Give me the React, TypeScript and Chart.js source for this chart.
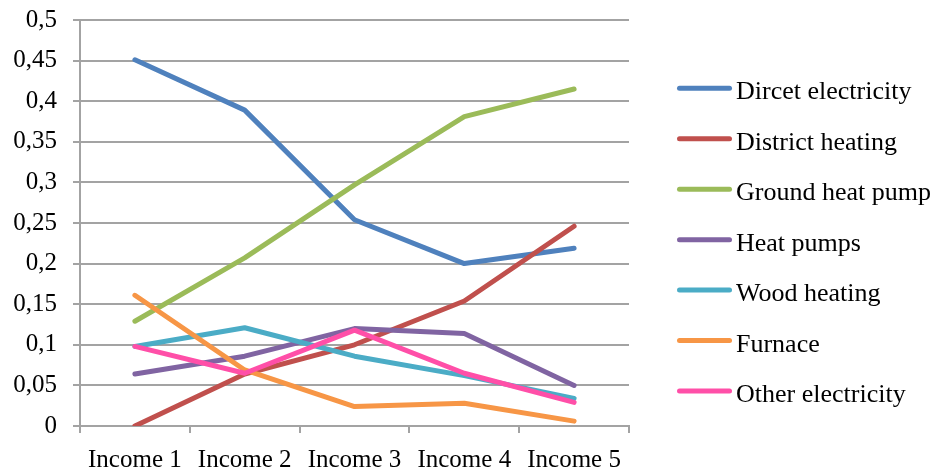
import React, { useEffect, useRef } from 'react';
import { Chart, registerables } from 'chart.js';

Chart.register(...registerables);

const categories = ['Income 1', 'Income 2', 'Income 3', 'Income 4', 'Income 5'];
const seriesNames = [
  'Dircet electricity',
  'District heating',
  'Ground heat pump',
  'Heat pumps',
  'Wood heating',
  'Furnace',
  'Other electricity',
];
const directElectricity = [0.451, 0.389, 0.254, 0.2, 0.219];
const districtHeating = [0.0, 0.064, 0.1, 0.154, 0.246];
const groundHeatPump = [0.129, 0.207, 0.297, 0.381, 0.415];
const heatPumps = [0.064, 0.086, 0.12, 0.114, 0.05];
const woodHeating = [0.098, 0.121, 0.086, 0.062, 0.034];
const furnace = [0.161, 0.069, 0.024, 0.028, 0.006];
const otherElectricity = [0.098, 0.065, 0.118, 0.065, 0.029];
const seriesColors = ['#4f81bd', '#c0504d', '#9bbb59', '#8064a2', '#4bacc6', '#f79646', '#ff4fa8'];
const yMin = 0;
const yMax = 0.5;
const yStep = 0.05;

const FONT = "'Liberation Serif', 'Times New Roman', serif";
const GRID = '#a3a3a3';

const sideLegend = {
  id: 'sideLegend',
  afterDraw(chart: any) {
    const ctx = chart.ctx;
    const x0 = chart.chartArea.right + 48;
    const y0 = 88.3;
    const gap = 50.45;
    ctx.save();
    chart.data.datasets.forEach((ds: any, i: number) => {
      const y = y0 + i * gap;
      ctx.beginPath();
      ctx.lineWidth = 5;
      ctx.lineCap = 'round';
      ctx.strokeStyle = ds.borderColor;
      ctx.moveTo(x0 + 2.5, y);
      ctx.lineTo(x0 + 52.5, y);
      ctx.stroke();
      ctx.fillStyle = '#000';
      ctx.font = `26px ${FONT}`;
      ctx.textBaseline = 'alphabetic';
      ctx.textAlign = 'left';
      ctx.fillText(ds.label, x0 + 59, y + 11);
    });
    ctx.restore();
  },
};

export default function App() {
  const ref = useRef<HTMLCanvasElement | null>(null);
  useEffect(() => {
    if (!ref.current) return;
    const all = [directElectricity, districtHeating, groundHeatPump, heatPumps, woodHeating, furnace, otherElectricity];
    const chart = new Chart(ref.current, {
      type: 'line',
      data: {
        labels: categories,
        datasets: all.map((d, i) => ({
          label: seriesNames[i],
          data: d,
          borderColor: seriesColors[i],
          backgroundColor: seriesColors[i],
          borderWidth: 5,
          borderCapStyle: 'round',
          borderJoinStyle: 'round',
          pointRadius: 0,
          pointHoverRadius: 0,
          tension: 0,
          fill: false,
          order: all.length - 1 - i,
        })),
      },
      options: {
        responsive: false,
        animation: false,
        layout: { padding: { left: 0, right: 308, top: 20, bottom: 0 } },
        plugins: { legend: { display: false }, tooltip: { enabled: false } },
        scales: {
          x: {
            offset: true,
            grid: { offset: true, drawOnChartArea: false, color: GRID, lineWidth: 2, tickLength: 7 },
            border: { color: GRID, width: 2 },
            ticks: { color: '#000', font: { family: FONT, size: 25 }, padding: 12, maxRotation: 0, autoSkip: false },
            afterFit: (s: any) => { s.height = 46; s.paddingLeft = 0; s.paddingRight = 0; },
          },
          y: {
            min: yMin,
            max: yMax,
            grid: { color: GRID, lineWidth: 2, tickLength: 7 },
            border: { color: GRID, width: 2 },
            ticks: {
              stepSize: yStep,
              color: '#000',
              font: { family: FONT, size: 25 },
              padding: 16,
              callback: (v: any) => String(Math.round(Number(v) * 100) / 100).replace('.', ','),
            },
            afterFit: (s: any) => { s.width = 80; s.paddingTop = 0; s.paddingBottom = 0; },
          },
        },
      },
      plugins: [sideLegend],
    });
    return () => chart.destroy();
  }, []);
  return (
    <div style={{ position: 'fixed', left: 0, top: 0, width: 937, height: 472, background: '#fff' }}>
      <canvas ref={ref} width={937} height={472} style={{ display: 'block' }} />
    </div>
  );
}
